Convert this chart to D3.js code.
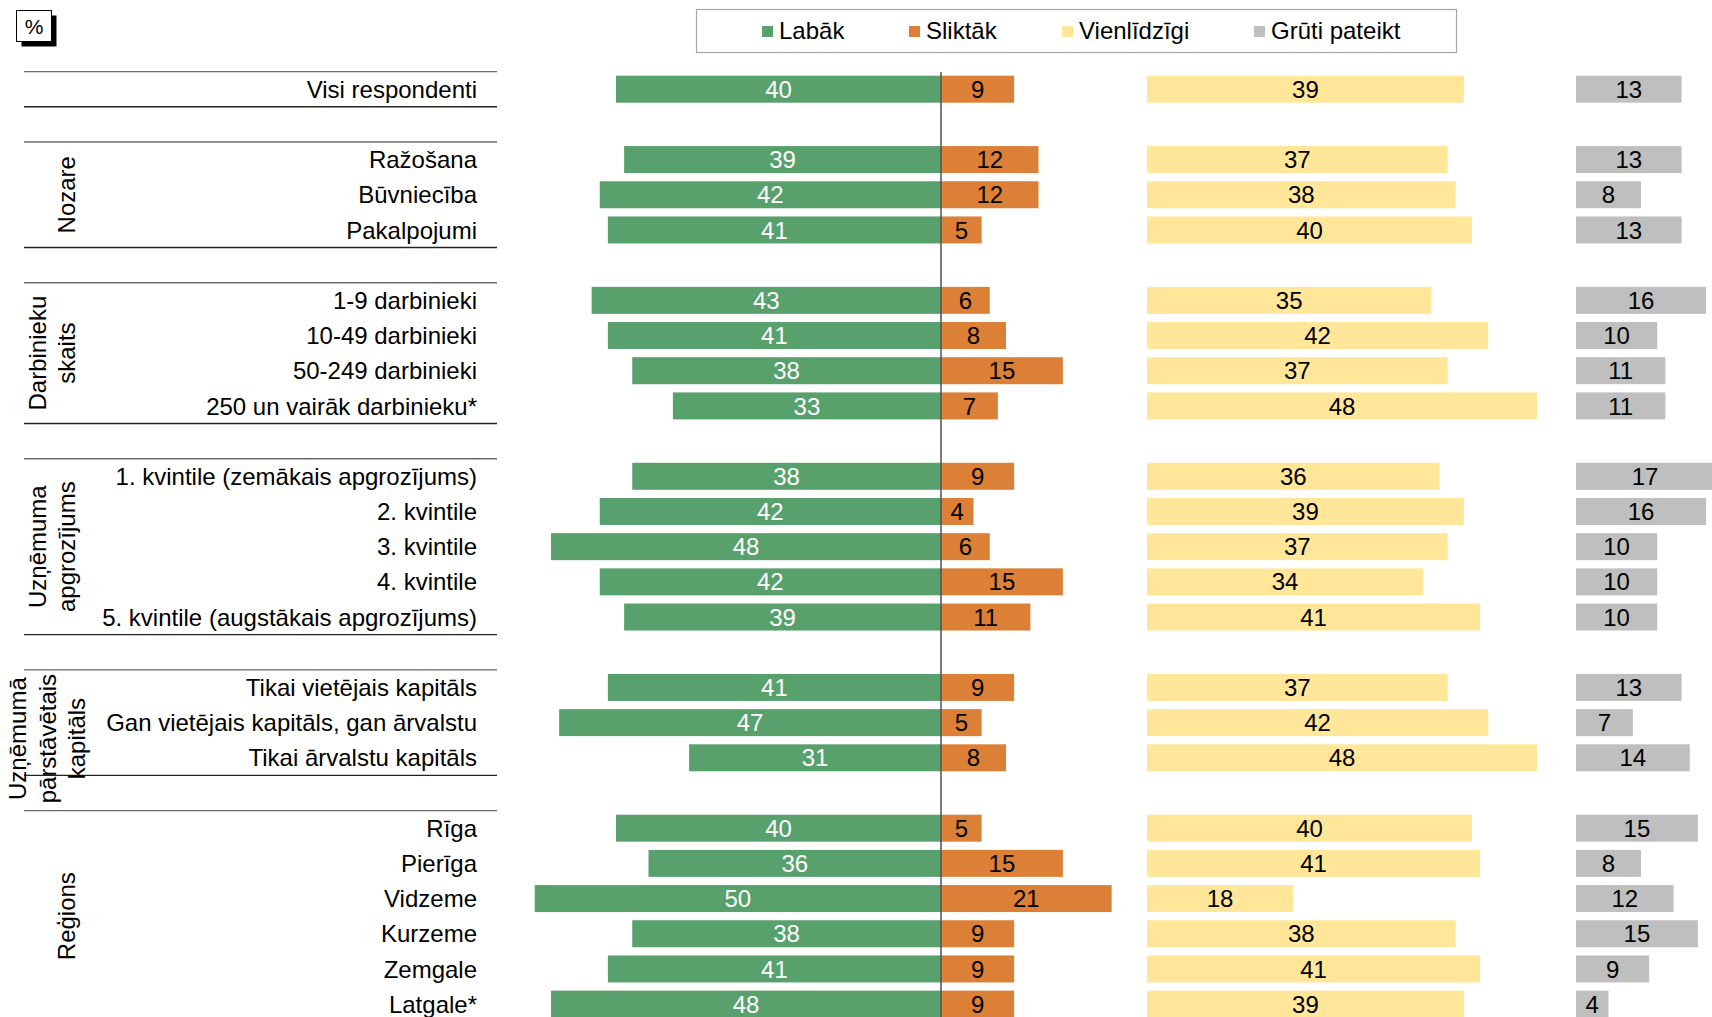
<!DOCTYPE html>
<html>
<head>
<meta charset="utf-8">
<script src="https://cdn.jsdelivr.net/npm/d3@7"></script>
<style>
  body { margin: 0; background: #fff; }
  svg { display: block; font-family: "Liberation Sans", Arial, sans-serif; }
</style>
</head>
<body>
<div id="container"></div>
<script>
// kategorijas (grupās)
var categories = [
  "Visi respondenti",
  "Ražošana", "Būvniecība", "Pakalpojumi",
  "1-9 darbinieki", "10-49 darbinieki", "50-249 darbinieki", "250 un vairāk darbinieku*",
  "1. kvintile (zemākais apgrozījums)", "2. kvintile", "3. kvintile", "4. kvintile", "5. kvintile (augstākais apgrozījums)",
  "Tikai vietējais kapitāls", "Gan vietējais kapitāls, gan ārvalstu", "Tikai ārvalstu kapitāls",
  "Rīga", "Pierīga", "Vidzeme", "Kurzeme", "Zemgale", "Latgale*"
];
var groupNames = [[], ["Nozare"], ["Darbinieku", "skaits"], ["Uzņēmuma", "apgrozījums"], ["Uzņēmumā", "pārstāvētais", "kapitāls"], ["Reģions"]];
var groupSizes = [1, 3, 4, 5, 3, 6];

// vērtības, %
var labak       = [40, 39, 42, 41, 43, 41, 38, 33, 38, 42, 48, 42, 39, 41, 47, 31, 40, 36, 50, 38, 41, 48];
var sliktak     = [9, 12, 12, 5, 6, 8, 15, 7, 9, 4, 6, 15, 11, 9, 5, 8, 5, 15, 21, 9, 9, 9];
var vienlidzigi = [39, 37, 38, 40, 35, 42, 37, 48, 36, 39, 37, 34, 41, 37, 42, 48, 40, 41, 18, 38, 41, 39];
var gruti       = [13, 13, 8, 13, 16, 10, 11, 11, 17, 16, 10, 10, 10, 13, 7, 14, 15, 8, 12, 15, 9, 4];

var seriesNames = ["Labāk", "Sliktāk", "Vienlīdzīgi", "Grūti pateikt"];
var seriesColors = ["#58a06c", "#db8036", "#ffe699", "#bfbfbf"];

var width = 1712;
var height = 1017;
var fontSize = "24px";

var svg = d3.select("#container").append("svg")
  .attr("width", width)
  .attr("height", height);

// rindu indeksi (tukša rinda starp grupām)
var rowOf = [];
var groupRows = [];
var r = 0;
groupSizes.forEach(function(n, g) {
  var start = r;
  for (var i = 0; i < n; i++) rowOf.push(r++);
  groupRows.push([start, r - 1]);
  r++; // tukšā rinda
});
var nRows = 27;
var step = 35.19;
var top0 = 71.6;

var y = d3.scaleBand()
  .domain(d3.range(nRows))
  .range([top0, top0 + nRows * step])
  .paddingInner(0.233)
  .paddingOuter(0.1165);

var x = d3.scaleLinear().domain([0, 10]).range([0, 81.25]);

var x0 = 941;   // Labāk / Sliktāk ass
var xV = 1147;  // Vienlīdzīgi sākums
var xG = 1576;  // Grūti pateikt sākums

var rows = categories.map(function(c, i) {
  return { name: c, row: rowOf[i], vals: [labak[i], sliktak[i], vienlidzigi[i], gruti[i]] };
});

//atdalītājlīnijas
var lines = svg.append("g");
groupRows.forEach(function(gr) {
  var yt = top0 + gr[0] * step;
  var yb = top0 + (gr[1] + 1) * step;
  lines.append("line").attr("x1", 24).attr("x2", 497).attr("y1", yt).attr("y2", yt)
    .attr("stroke", "#6b6b6b").attr("stroke-width", 1.4);
  lines.append("line").attr("x1", 24).attr("x2", 497).attr("y1", yb).attr("y2", yb)
    .attr("stroke", "#222").attr("stroke-width", 1.4);
});

// kategoriju nosaukumi
svg.append("g").selectAll("text")
  .data(rows)
  .enter().append("text")
  .attr("x", 477)
  .attr("y", function(d) { return y(d.row) + y.bandwidth() / 2; })
  .attr("dy", "0.36em")
  .attr("text-anchor", "end")
  .style("font-size", fontSize)
  .attr("fill", "#000")
  .text(function(d) { return d.name; });

// grupu nosaukumi (vertikāli)
groupNames.forEach(function(lns, g) {
  if (lns.length === 0) return;
  var gr = groupRows[g];
  var cy = (y(gr[0]) + y(gr[1])) / 2 + y.bandwidth() / 2;
  var lastBase = 75;
  if (lns.length === 3) { cy += 16; lastBase = 85; }
  lns.forEach(function(t, k) {
    var bx = lastBase - (lns.length - 1 - k) * 29.5;
    svg.append("text")
      .attr("transform", "translate(" + bx + "," + cy + ") rotate(-90)")
      .attr("text-anchor", "middle")
      .style("font-size", fontSize)
      .attr("fill", "#000")
      .text(t);
  });
});

// stabiņi
function barStart(d, s) {
  if (s === 0) return x0 - x(d.vals[0]);
  if (s === 1) return x0;
  if (s === 2) return xV;
  return xG;
}

var bars = svg.append("g");
seriesNames.forEach(function(name, s) {
  var gs = bars.append("g");
  gs.selectAll("rect")
    .data(rows)
    .enter().append("rect")
    .attr("x", function(d) { return barStart(d, s); })
    .attr("y", function(d) { return y(d.row); })
    .attr("width", function(d) { return x(d.vals[s]); })
    .attr("height", y.bandwidth())
    .attr("fill", seriesColors[s]);

  gs.selectAll("text")
    .data(rows)
    .enter().append("text")
    .attr("x", function(d) { return barStart(d, s) + x(d.vals[s]) / 2; })
    .attr("y", function(d) { return y(d.row) + y.bandwidth() / 2; })
    .attr("dy", "0.36em")
    .attr("text-anchor", "middle")
    .style("font-size", fontSize)
    .attr("fill", s === 0 ? "#fff" : "#000")
    .text(function(d) { return d.vals[s]; });
});

// vidus ass
svg.append("line")
  .attr("x1", x0).attr("x2", x0)
  .attr("y1", 72).attr("y2", height)
  .attr("stroke", "#505050")
  .attr("stroke-width", 1.5);

// leģenda
var legX = [762, 909, 1062, 1254];
var leg = svg.append("g");
leg.append("rect")
  .attr("x", 696.5).attr("y", 9.5)
  .attr("width", 760).attr("height", 43)
  .attr("fill", "#fff")
  .attr("stroke", "#a6a6a6")
  .attr("stroke-width", 1.2);
seriesNames.forEach(function(name, i) {
  leg.append("rect")
    .attr("x", legX[i]).attr("y", 26)
    .attr("width", 11).attr("height", 11)
    .attr("fill", seriesColors[i]);
  leg.append("text")
    .attr("x", legX[i] + 17).attr("y", 38.5)
    .style("font-size", fontSize)
    .attr("fill", "#000")
    .text(name);
});

// % zīme
svg.append("rect").attr("x", 21.5).attr("y", 15.5).attr("width", 35).attr("height", 31).attr("fill", "#000");
svg.append("rect").attr("x", 16.5).attr("y", 10.5).attr("width", 35).attr("height", 31)
  .attr("fill", "#fff").attr("stroke", "#000").attr("stroke-width", 1);
svg.append("text")
  .attr("x", 34).attr("y", 33.5)
  .attr("text-anchor", "middle")
  .style("font-size", "21px")
  .text("%");
</script>
</body>
</html>
